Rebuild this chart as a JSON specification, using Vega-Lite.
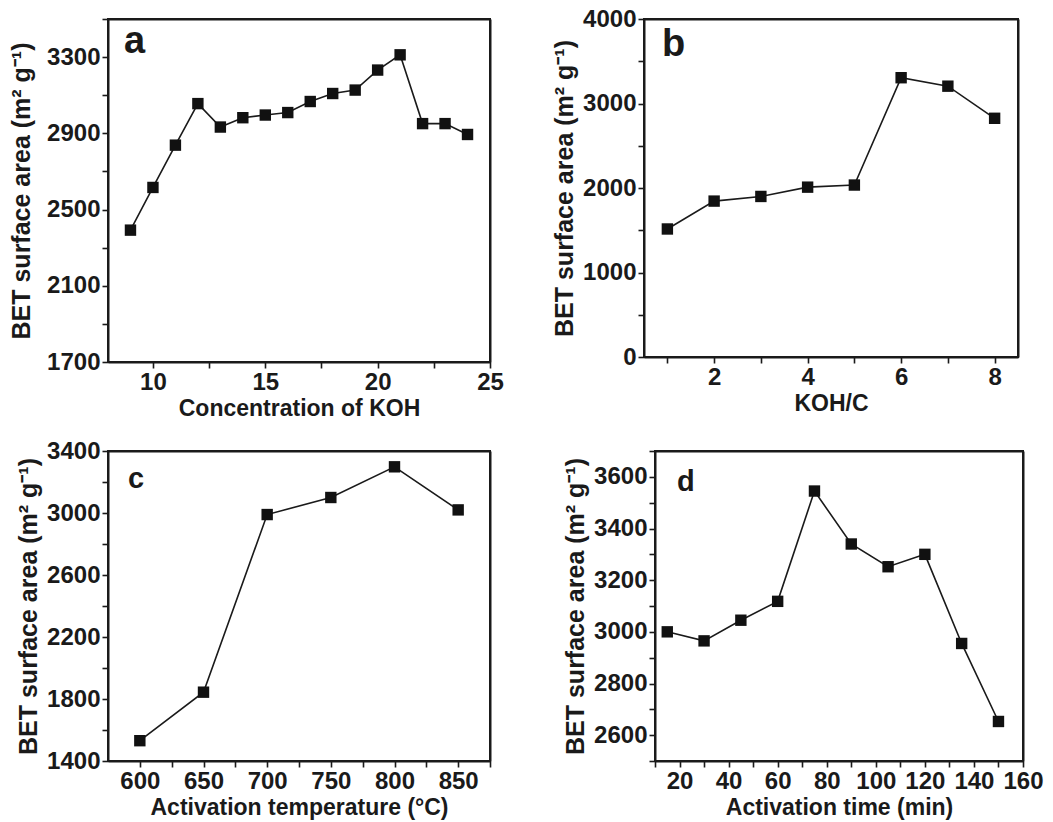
{
  "$schema": "https://vega.github.io/schema/vega-lite/v6.json",
  "background": "white",
  "padding": {"left": 8, "top": 6, "right": 4, "bottom": 2},
  "config": {
    "view": {"stroke": "#1a1a1a", "strokeWidth": 2},
    "axis": {
      "grid": false,
      "labelFont": "Liberation Sans", "labelFontWeight": "bold", "labelFontSize": 24, "labelColor": "#1a1a1a",
      "titleFont": "Liberation Sans", "titleFontWeight": "bold", "titleFontSize": 23, "titleColor": "#1a1a1a",
      "domainColor": "#1a1a1a", "domainWidth": 2, "tickColor": "#1a1a1a", "tickWidth": 1.6, "tickSize": 6,
      "labelOverlap": false, "labelFlush": false, "labelPadding": 2, "format": "d"
    },
    "axisY": {"titleFontSize": 25, "titlePadding": 5},
    "axisX": {"titlePadding": 3},
    "title": {"font": "Liberation Sans", "fontWeight": "bold", "fontSize": 38, "color": "#1a1a1a", "anchor": "start", "frame": "group", "baseline": "alphabetic", "offset": 0}
  },
  "datasets": {
    "a": [
      {"concentration": 9, "area": 2392}, {"concentration": 10, "area": 2616}, {"concentration": 11, "area": 2838},
      {"concentration": 12, "area": 3056}, {"concentration": 13, "area": 2933}, {"concentration": 14, "area": 2982},
      {"concentration": 15, "area": 2996}, {"concentration": 16, "area": 3009}, {"concentration": 17, "area": 3067},
      {"concentration": 18, "area": 3109}, {"concentration": 19, "area": 3127}, {"concentration": 20, "area": 3232},
      {"concentration": 21, "area": 3312}, {"concentration": 22, "area": 2951}, {"concentration": 23, "area": 2951},
      {"concentration": 24, "area": 2894}
    ],
    "b": [
      {"ratio": 1, "area": 1515}, {"ratio": 2, "area": 1845}, {"ratio": 3, "area": 1900}, {"ratio": 4, "area": 2010},
      {"ratio": 5, "area": 2035}, {"ratio": 6, "area": 3305}, {"ratio": 7, "area": 3205}, {"ratio": 8, "area": 2825}
    ],
    "c": [
      {"temperature": 600, "area": 1531}, {"temperature": 650, "area": 1844}, {"temperature": 700, "area": 2990},
      {"temperature": 750, "area": 3100}, {"temperature": 800, "area": 3298}, {"temperature": 850, "area": 3020}
    ],
    "d": [
      {"time": 15, "area": 3000}, {"time": 30, "area": 2965}, {"time": 45, "area": 3045}, {"time": 60, "area": 3118},
      {"time": 75, "area": 3545}, {"time": 90, "area": 3340}, {"time": 105, "area": 3252}, {"time": 120, "area": 3300},
      {"time": 135, "area": 2955}, {"time": 150, "area": 2653}
    ]
  },
  "spacing": 17,
  "vconcat": [
    {
      "spacing": 46,
      "hconcat": [
        {
          "width": 382, "height": 343,
          "data": {"name": "a"},
          "title": {"text": "a", "dx": 16, "dy": 58},
          "layer": [
            {
              "mark": {"type": "line", "color": "#1a1a1a", "strokeWidth": 1.6},
              "encoding": {
                "x": {"field": "concentration", "type": "quantitative", "scale": {"domain": [8, 25], "nice": false, "zero": false},
                  "axis": {"title": "Concentration of KOH", "values": [10, 12.5, 15, 17.5, 20, 22.5, 25], "labelExpr": "datum.value % 5 == 0 ? datum.label : ''"}},
                "y": {"field": "area", "type": "quantitative", "scale": {"domain": [1700, 3500], "nice": false, "zero": false},
                  "axis": {"title": "BET surface area (m² g⁻¹)", "titlePadding": 12, "values": [1700, 1900, 2100, 2300, 2500, 2700, 2900, 3100, 3300, 3500], "labelExpr": "(datum.value - 1700) % 400 == 0 ? datum.label : ''"}}
              }
            },
            {
              "mark": {"type": "point", "shape": "square", "filled": true, "size": 130, "color": "#111111", "opacity": 1},
              "encoding": {
                "x": {"field": "concentration", "type": "quantitative", "scale": {"domain": [8, 25], "nice": false, "zero": false},
                  "axis": {"orient": "top", "title": null, "labels": false, "ticks": false, "domain": true}},
                "y": {"field": "area", "type": "quantitative", "scale": {"domain": [1700, 3500], "nice": false, "zero": false},
                  "axis": {"orient": "right", "title": null, "labels": false, "ticks": false, "domain": true}}
              }
            }
          ],
          "resolve": {"scale": {"x": "independent", "y": "independent"}}
        },
        {
          "width": 374, "height": 338,
          "data": {"name": "b"},
          "title": {"text": "b", "dx": 18, "dy": 61},
          "layer": [
            {
              "mark": {"type": "line", "color": "#1a1a1a", "strokeWidth": 1.6},
              "encoding": {
                "x": {"field": "ratio", "type": "quantitative", "scale": {"domain": [0.5, 8.5], "nice": false, "zero": false},
                  "axis": {"title": "KOH/C", "values": [1, 2, 3, 4, 5, 6, 7, 8], "labelExpr": "datum.value % 2 == 0 ? datum.label : ''"}},
                "y": {"field": "area", "type": "quantitative", "scale": {"domain": [0, 4000], "nice": false},
                  "axis": {"title": "BET surface area (m² g⁻¹)", "values": [0, 500, 1000, 1500, 2000, 2500, 3000, 3500, 4000], "labelExpr": "datum.value % 1000 == 0 ? datum.label : ''"}}
              }
            },
            {
              "mark": {"type": "point", "shape": "square", "filled": true, "size": 130, "color": "#111111", "opacity": 1},
              "encoding": {
                "x": {"field": "ratio", "type": "quantitative", "scale": {"domain": [0.5, 8.5], "nice": false, "zero": false},
                  "axis": {"orient": "top", "title": null, "labels": false, "ticks": false, "domain": true}},
                "y": {"field": "area", "type": "quantitative", "scale": {"domain": [0, 4000], "nice": false},
                  "axis": {"orient": "right", "title": null, "labels": false, "ticks": false, "domain": true}}
              }
            }
          ],
          "resolve": {"scale": {"x": "independent", "y": "independent"}}
        }
      ]
    },
    {
      "spacing": 70,
      "hconcat": [
        {
          "width": 382, "height": 310,
          "data": {"name": "c"},
          "title": {"text": "c", "dx": 20, "dy": 59, "fontSize": 29},
          "layer": [
            {
              "mark": {"type": "line", "color": "#1a1a1a", "strokeWidth": 1.6},
              "encoding": {
                "x": {"field": "temperature", "type": "quantitative", "scale": {"domain": [575, 875], "nice": false, "zero": false},
                  "axis": {"title": "Activation temperature (°C)", "values": [600, 625, 650, 675, 700, 725, 750, 775, 800, 825, 850, 875], "labelExpr": "datum.value % 50 == 0 ? datum.label : ''"}},
                "y": {"field": "area", "type": "quantitative", "scale": {"domain": [1400, 3400], "nice": false, "zero": false},
                  "axis": {"title": "BET surface area (m² g⁻¹)", "values": [1400, 1600, 1800, 2000, 2200, 2400, 2600, 2800, 3000, 3200, 3400], "labelExpr": "(datum.value - 1400) % 400 == 0 ? datum.label : ''"}}
              }
            },
            {
              "mark": {"type": "point", "shape": "square", "filled": true, "size": 130, "color": "#111111", "opacity": 1},
              "encoding": {
                "x": {"field": "temperature", "type": "quantitative", "scale": {"domain": [575, 875], "nice": false, "zero": false},
                  "axis": {"orient": "top", "title": null, "labels": false, "ticks": false, "domain": true}},
                "y": {"field": "area", "type": "quantitative", "scale": {"domain": [1400, 3400], "nice": false, "zero": false},
                  "axis": {"orient": "right", "title": null, "labels": false, "ticks": false, "domain": true}}
              }
            }
          ],
          "resolve": {"scale": {"x": "independent", "y": "independent"}}
        },
        {
          "width": 368, "height": 310,
          "data": {"name": "d"},
          "title": {"text": "d", "dx": 22, "dy": 62, "fontSize": 29},
          "layer": [
            {
              "mark": {"type": "line", "color": "#1a1a1a", "strokeWidth": 1.6},
              "encoding": {
                "x": {"field": "time", "type": "quantitative", "scale": {"domain": [10, 160], "nice": false, "zero": false},
                  "axis": {"title": "Activation time (min)", "values": [10, 20, 30, 40, 50, 60, 70, 80, 90, 100, 110, 120, 130, 140, 150, 160], "labelExpr": "datum.value % 20 == 0 ? datum.label : ''"}},
                "y": {"field": "area", "type": "quantitative", "scale": {"domain": [2500, 3700], "nice": false, "zero": false},
                  "axis": {"title": "BET surface area (m² g⁻¹)", "values": [2500, 2600, 2700, 2800, 2900, 3000, 3100, 3200, 3300, 3400, 3500, 3600, 3700], "labelExpr": "datum.value % 200 == 0 ? datum.label : ''"}}
              }
            },
            {
              "mark": {"type": "point", "shape": "square", "filled": true, "size": 130, "color": "#111111", "opacity": 1},
              "encoding": {
                "x": {"field": "time", "type": "quantitative", "scale": {"domain": [10, 160], "nice": false, "zero": false},
                  "axis": {"orient": "top", "title": null, "labels": false, "ticks": false, "domain": true}},
                "y": {"field": "area", "type": "quantitative", "scale": {"domain": [2500, 3700], "nice": false, "zero": false},
                  "axis": {"orient": "right", "title": null, "labels": false, "ticks": false, "domain": true}}
              }
            }
          ],
          "resolve": {"scale": {"x": "independent", "y": "independent"}}
        }
      ]
    }
  ]
}
